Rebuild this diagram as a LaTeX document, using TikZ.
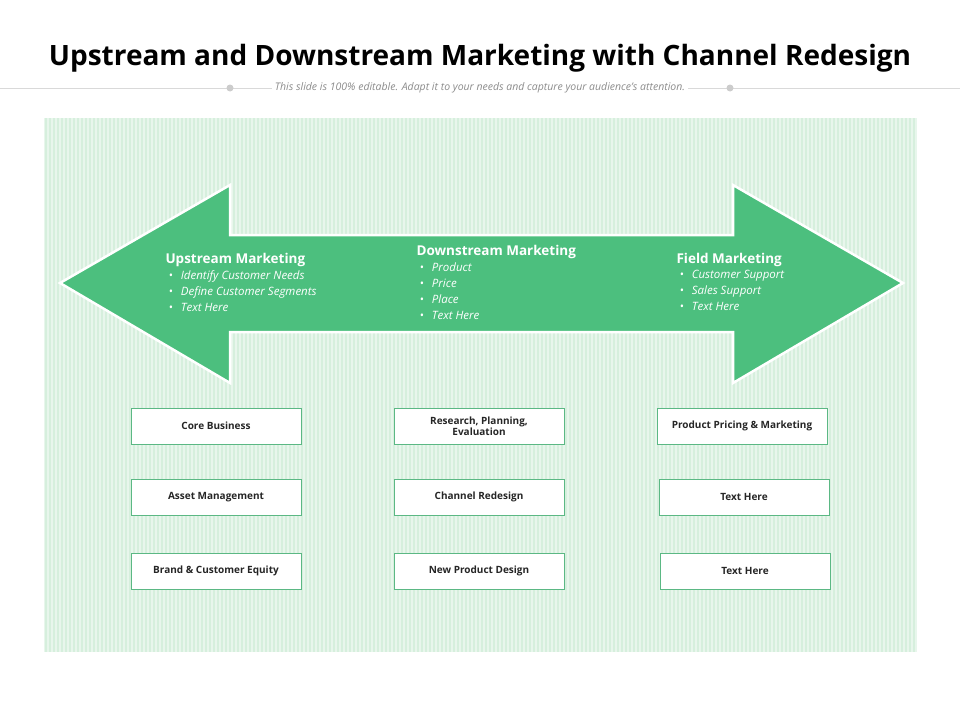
\documentclass[tikz,border=0pt]{standalone}
\usepackage{fontspec}
\setmainfont{Open Sans}
\definecolor{arr}{HTML}{4CBF7E}
\definecolor{bg}{HTML}{E8F6EC}
\definecolor{stripe}{HTML}{D6EFDD}
\definecolor{bx}{HTML}{5BB884}
\begin{document}
\begin{tikzpicture}[x=1pt,y=-1pt,
 box/.style={draw=bx,fill=white,minimum width=170pt,minimum height=36pt,inner sep=2pt,font=\fontsize{10}{11}\selectfont\bfseries,align=center,text=black!85},
 head/.style={text=white,font=\fontsize{13.5}{15}\selectfont\bfseries,anchor=west},
 bul/.style={text=white,font=\fontsize{11.5}{16}\selectfont\itshape,anchor=north west,align=left}]
\useasboundingbox (0,0) rectangle (960,720);
\fill[white] (0,0) rectangle (960,720);
\node[font=\fontsize{28}{32}\selectfont\bfseries] (title) at (480,58) {Upstream and Downstream Marketing with Channel Redesign};
\draw[black!15] (0,88) -- (960,88);
\fill[black!20] (230,88) circle (3.5) (730,88) circle (3.5);
\node[fill=white,font=\fontsize{10.5}{12}\selectfont\itshape,text=black!45] (sub) at (480,88) {This slide is 100\% editable. Adapt it to your needs and capture your audience's attention.};
\fill[bg] (44,118) rectangle (917,652);
\foreach \i in {0,...,217} \draw[stripe,line width=1.2pt] (46+4*\i,118) -- (46+4*\i,652);
\draw[white,line width=2.5pt,fill=arr,line join=miter] (60,283) -- (230,185) -- (230,235) -- (733,235) -- (733,185) -- (903,283) -- (733,383) -- (733,332) -- (230,332) -- (230,383) -- cycle;
\node[head] (h1) at (162,260) {Upstream Marketing};
\node[bul] (b1) at (165,267) {•\hspace{8pt}Identify Customer Needs\\•\hspace{8pt}Define Customer Segments\\•\hspace{8pt}Text Here};
\node[head] (h2) at (413,252) {Downstream Marketing};
\node[bul] (b2) at (416,259) {•\hspace{8pt}Product\\•\hspace{8pt}Price\\•\hspace{8pt}Place\\•\hspace{8pt}Text Here};
\node[head] (h3) at (673,260) {Field Marketing};
\node[bul] (b3) at (676,267) {•\hspace{8pt}Customer Support\\•\hspace{8pt}Sales Support\\•\hspace{8pt}Text Here};
\node[box] (c11) at (216,426) {Core Business};
\node[box] (c12) at (216,497) {Asset Management};
\node[box] (c13) at (216,571) {Brand \& Customer Equity};
\node[box] (c21) at (479,426) {Research, Planning,\\Evaluation};
\node[box] (c22) at (479,497) {Channel Redesign};
\node[box] (c23) at (479,571) {New Product Design};
\node[box] (c31) at (742,426) {Product Pricing \& Marketing};
\node[box] (c32) at (744,497) {Text Here};
\node[box] (c33) at (745,571) {Text Here};
\end{tikzpicture}
\end{document}
